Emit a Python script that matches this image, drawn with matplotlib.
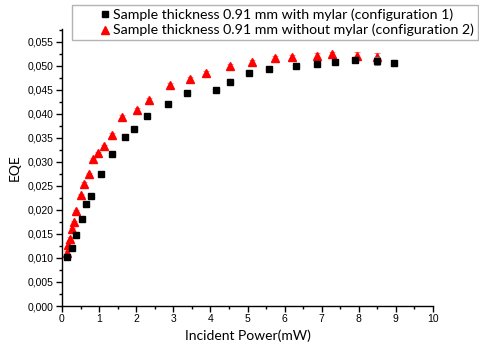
import matplotlib
matplotlib.use("Agg")
import matplotlib.pyplot as plt
from matplotlib.ticker import MultipleLocator, FuncFormatter

# Configuration 1: 0.91 mm sample with mylar
power_1 = [0.14, 0.28, 0.39, 0.53, 0.65, 0.77, 1.05, 1.36, 1.69, 1.95, 2.29, 2.85,
           3.36, 4.14, 4.52, 5.05, 5.59, 6.31, 6.86, 7.35, 7.90, 8.49, 8.94]
eqe_1 = [0.0102, 0.0120, 0.0147, 0.0182, 0.0212, 0.0230, 0.0274, 0.0317, 0.0351, 0.0369,
         0.0395, 0.0421, 0.0444, 0.0450, 0.0467, 0.0486, 0.0493, 0.0499, 0.0504, 0.0508,
         0.0513, 0.0510, 0.0506]
err_1 = [0.0002, 0.0002, 0.0002, 0.0002, 0.0002, 0.0002, 0.0002, 0.0002, 0.0002, 0.0004,
         0.0004, 0.0003, 0.0003, 0.0003, 0.0005, 0.0004, 0.0004, 0.0004, 0.0004, 0.0004,
         0.0004, 0.0008, 0.0007]

# Configuration 2: 0.91 mm sample without mylar
power_2 = [0.13, 0.17, 0.22, 0.28, 0.33, 0.39, 0.50, 0.60, 0.73, 0.84, 0.98, 1.12,
           1.35, 1.62, 2.01, 2.34, 2.92, 3.44, 3.88, 4.52, 5.13, 5.74, 6.19, 6.88,
           7.27, 7.95, 8.49]
eqe_2 = [0.0111, 0.0128, 0.0140, 0.0160, 0.0174, 0.0198, 0.0231, 0.0255, 0.0275, 0.0306,
         0.0318, 0.0333, 0.0357, 0.0394, 0.0408, 0.0429, 0.0460, 0.0472, 0.0485, 0.0499,
         0.0508, 0.0517, 0.0518, 0.0521, 0.0525, 0.0521, 0.0518]
err_2 = [0.0003, 0.0003, 0.0003, 0.0003, 0.0003, 0.0003, 0.0003, 0.0003, 0.0003, 0.0003,
         0.0003, 0.0003, 0.0004, 0.0004, 0.0005, 0.0005, 0.0004, 0.0004, 0.0004, 0.0006,
         0.0005, 0.0004, 0.0004, 0.0005, 0.0005, 0.0008, 0.0008]

labels = ["Sample thickness 0.91 mm with mylar (configuration 1)",
          "Sample thickness 0.91 mm without mylar (configuration 2)"]

label_font = ["Lato", "DejaVu Sans"]
tick_font = ["Liberation Sans", "DejaVu Sans"]

fig = plt.figure(figsize=(4.79, 3.45), dpi=100)
ax = fig.add_axes([62 / 479, 39 / 345, (433 - 62) / 479, (306 - 29) / 345])

ax.errorbar(power_1, eqe_1, yerr=err_1, fmt="s", color="black", ms=4.6,
            ecolor="#8a8a8a", elinewidth=0.8, capsize=2, capthick=0.8,
            label=labels[0], zorder=3)
ax.errorbar(power_2, eqe_2, yerr=err_2, fmt="^", color="#ff0000", ms=5.8,
            ecolor="#ff8080", elinewidth=0.8, capsize=2, capthick=0.8,
            label=labels[1], zorder=2)

ax.set_xlim(0, 10)
ax.set_ylim(0, 0.0577)
ax.xaxis.set_major_locator(MultipleLocator(1))
ax.xaxis.set_minor_locator(MultipleLocator(0.5))
ax.yaxis.set_major_locator(MultipleLocator(0.005))
ax.yaxis.set_minor_locator(MultipleLocator(0.0025))
ax.yaxis.set_major_formatter(FuncFormatter(lambda v, p: f"{v:.3f}".replace(".", ",")))
ax.xaxis.set_major_formatter(FuncFormatter(lambda v, p: f"{v:.0f}"))

for side in ("top", "right"):
    ax.spines[side].set_visible(False)
for side in ("left", "bottom"):
    ax.spines[side].set_linewidth(1.0)

ax.tick_params(which="major", direction="out", length=4, width=1, labelsize=7.5, pad=2)
ax.tick_params(which="minor", direction="out", length=2.5, width=1)
for t in ax.get_xticklabels() + ax.get_yticklabels():
    t.set_fontfamily(tick_font)

ax.set_xlabel("Incident Power(mW)", fontsize=10, family=label_font, labelpad=4)
ax.set_ylabel("EQE", fontsize=10, family=label_font, labelpad=5)

h, l = ax.get_legend_handles_labels()
h = [hh[0] for hh in h]
leg = fig.legend(h, l, loc="upper left", bbox_to_anchor=(72 / 479, 1 - 5 / 345),
                 prop={"family": label_font, "size": 10.2}, frameon=True,
                 fancybox=False, edgecolor="#a0a0a0", handlelength=4.1,
                 handletextpad=-1.45, borderpad=0.25, labelspacing=0.2,
                 borderaxespad=0, markerscale=1.0)
leg.get_frame().set_linewidth(1.0)

fig.savefig("out.png", dpi=100)
